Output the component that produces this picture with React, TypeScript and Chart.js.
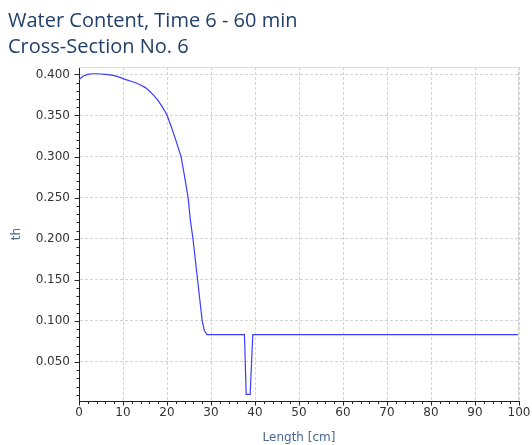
import React, { useEffect, useRef } from "react";
import { Chart, registerables } from "chart.js";

Chart.register(...registerables);

const titleLines = ["Water Content, Time 6 - 60 min", "Cross-Section No. 6"];
const xTitle = "Length [cm]";
const yTitle = "th";

const lengthCm = [
  0, 0.5, 1, 2, 3, 4, 5, 6, 7, 8, 9, 10, 11, 12, 13, 14, 15, 16, 17, 18, 19, 20, 21, 22, 23.2,
  24, 24.8, 25.3, 25.9, 26.95, 28, 28.5, 29.1, 37.6, 38, 38.9, 39.5, 100,
];
const theta = [
  0.3935, 0.396, 0.398, 0.4, 0.4008, 0.4008, 0.4005, 0.4001, 0.3995, 0.3985, 0.397, 0.3948,
  0.393, 0.3913, 0.3895, 0.387, 0.3842, 0.3798, 0.3745, 0.368, 0.3598, 0.3505, 0.336, 0.32, 0.3,
  0.2756, 0.25, 0.223, 0.2, 0.15, 0.1, 0.088, 0.0834, 0.0834, 0.0106, 0.0106, 0.0834, 0.0834,
];
const yMajorTicks = [0.05, 0.1, 0.15, 0.2, 0.25, 0.3, 0.35, 0.4];
const xMajorTicks = [0, 10, 20, 30, 40, 50, 60, 70, 80, 90, 100];
const yMinorStep = 0.01;
const xMinorStep = 2;
const yMin = 0.0025;
const yMax = 0.409;

const tickPlugin = {
  id: "minorTicks",
  afterDraw(chart: any) {
    const { ctx, chartArea } = chart;
    const xs = chart.scales.x;
    const ys = chart.scales.y;
    ctx.save();
    ctx.strokeStyle = "#d9d9d9";
    ctx.lineWidth = 1;
    ctx.beginPath();
    ctx.moveTo(chartArea.left, Math.round(chartArea.top) + 0.5);
    ctx.lineTo(chartArea.right, Math.round(chartArea.top) + 0.5);
    ctx.moveTo(Math.round(chartArea.right) - 0.5, chartArea.top);
    ctx.lineTo(Math.round(chartArea.right) - 0.5, chartArea.bottom);
    ctx.stroke();
    ctx.strokeStyle = "#222";
    ctx.beginPath();
    const left = Math.round(chartArea.left) + 0.5;
    for (let i = 1; i * yMinorStep <= yMax; i++) {
      const v = i * yMinorStep;
      const y = Math.round(ys.getPixelForValue(v)) + 0.5;
      const major = i % 5 === 0;
      ctx.moveTo(left, y);
      ctx.lineTo(left - (major ? 5 : 3), y);
    }
    const bottom = Math.round(chartArea.bottom) + 0.5;
    for (let i = 0; i * xMinorStep <= 100; i++) {
      const v = i * xMinorStep;
      const x = Math.round(xs.getPixelForValue(v)) + 0.5;
      const major = i % 5 === 0;
      ctx.moveTo(x, bottom);
      ctx.lineTo(x, bottom + (major ? 4 : 2.5));
    }
    ctx.stroke();
    ctx.restore();
  },
};

export default function App() {
  const ref = useRef<HTMLCanvasElement>(null);
  useEffect(() => {
    if (!ref.current) return;
    const tickFont = { family: "DejaVu Sans", size: 12 };
    const chart = new Chart(ref.current, {
      type: "line",
      data: {
        datasets: [
          {
            data: lengthCm.map((x, i) => ({ x, y: theta[i] })),
            borderColor: "#3d3dff",
            borderWidth: 1.2,
            pointRadius: 0,
            tension: 0,
            fill: false,
          },
        ],
      },
      options: {
        animation: false,
        responsive: false,
        maintainAspectRatio: false,
        layout: { padding: { top: 67, right: 13, left: 0, bottom: 0 } },
        plugins: {
          legend: { display: false },
          tooltip: { enabled: false },
          title: { display: false },
        },
        scales: {
          x: {
            type: "linear",
            min: 0,
            max: 100,
            afterBuildTicks: (s: any) => {
              s.ticks = xMajorTicks.map((v) => ({ value: v }));
            },
            afterFit: (s: any) => {
              s.height = 44;
              s.paddingLeft = 0;
              s.paddingRight = 0;
            },
            ticks: { color: "#333", font: tickFont, padding: 5, maxRotation: 0, autoSkip: false },
            grid: { color: "#d4d4d4", drawTicks: false, lineWidth: 1 },
            border: { color: "#222", width: 1, dash: [3, 2] },
            title: {
              display: true,
              text: xTitle,
              color: "#4a6890",
              font: { family: "DejaVu Sans", size: 12 },
              padding: { top: 3, bottom: 0 },
            },
          },
          y: {
            type: "linear",
            min: yMin,
            max: yMax,
            afterBuildTicks: (s: any) => {
              s.ticks = yMajorTicks.map((v) => ({ value: v }));
            },
            afterFit: (s: any) => {
              s.width = 79;
              s.paddingTop = 0;
              s.paddingBottom = 0;
            },
            ticks: {
              color: "#333",
              font: tickFont,
              padding: 9,
              callback: (v: any) => Number(v).toFixed(3),
            },
            grid: { color: "#d4d4d4", drawTicks: false, lineWidth: 1 },
            border: { color: "#222", width: 1, dash: [3, 2] },
            title: {
              display: true,
              text: yTitle,
              color: "#4a6890",
              font: { family: "DejaVu Sans", size: 12 },
              padding: { top: 10, bottom: 0 },
            },
          },
        },
      },
      plugins: [tickPlugin],
    } as any);
    return () => chart.destroy();
  }, []);

  return (
    <div style={{ position: "fixed", left: 0, top: 0, width: 532, height: 445, background: "#fff" }}>
      <canvas ref={ref} width={532} height={445} style={{ position: "absolute", left: 0, top: 0 }} />
      <div
        style={{
          position: "absolute",
          left: 8,
          top: 7,
          fontFamily: "'Open Sans', sans-serif",
          fontSize: 20,
          lineHeight: "26px",
          color: "#22406a",
          whiteSpace: "nowrap",
        }}
      >
        {titleLines.map((t) => (
          <div key={t}>{t}</div>
        ))}
      </div>
    </div>
  );
}
